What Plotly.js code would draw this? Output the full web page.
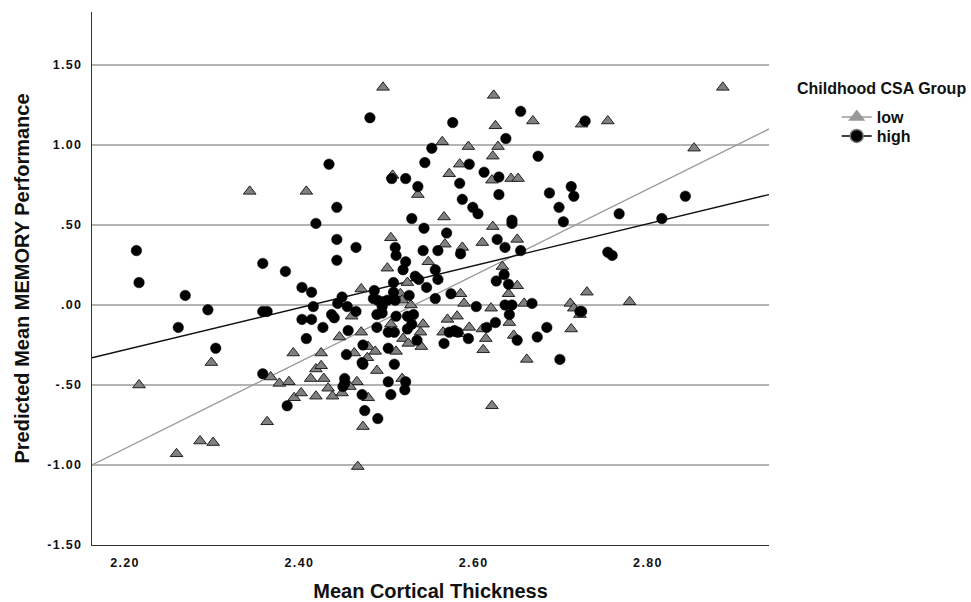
<!DOCTYPE html>
<html>
<head>
<meta charset="utf-8">
<script src="https://cdn.plot.ly/plotly-3.0.1.min.js"></script>
<style>
  html, body { margin: 0; padding: 0; background: #fff; }
  #chart { width: 971px; height: 602px; }
  .xtick text, .ytick text { letter-spacing: 1.3px; }
</style>
</head>
<body>
<div id="chart"></div>
<script>
// ---- Data ----
const lowX = [2.343, 2.408, 2.216, 2.299, 2.259, 2.286, 2.301, 2.367, 2.377, 2.388, 2.393, 2.363,
  2.394, 2.402, 2.413, 2.419, 2.425, 2.425, 2.428, 2.419, 2.433, 2.438,
  2.507, 2.536, 2.505, 2.501, 2.548, 2.524, 2.471, 2.516, 2.518, 2.528, 2.460, 2.542, 2.505, 2.539,
  2.471, 2.446, 2.519, 2.525, 2.540, 2.479, 2.487, 2.511, 2.463, 2.478,
  2.584, 2.572, 2.621, 2.643, 2.651, 2.566, 2.622, 2.650, 2.567, 2.610, 2.587, 2.633, 2.650, 2.585,
  2.640, 2.730, 2.589, 2.620, 2.658, 2.711,
  2.715, 2.722, 2.570, 2.581, 2.565, 2.584, 2.595, 2.610, 2.614, 2.641, 2.646, 2.712, 2.611, 2.661, 2.621,
  2.724, 2.754, 2.886, 2.853, 2.779,
  2.623, 2.668, 2.625, 2.564, 2.594, 2.628, 2.622,
  2.496,
  2.489, 2.466, 2.458, 2.449, 2.479, 2.518, 2.473, 2.467];
const lowY = [0.71, 0.71, -0.50, -0.36, -0.93, -0.85, -0.86, -0.45, -0.49, -0.48, -0.30, -0.73,
  -0.58, -0.55, -0.46, -0.40, -0.38, -0.30, -0.46, -0.57, -0.52, -0.57,
  0.81, 0.69, 0.42, 0.23, 0.27, 0.14, 0.10, 0.07, 0.03, 0.00, -0.07, -0.12, -0.12, -0.17,
  -0.17, -0.20, -0.21, -0.24, -0.26, -0.26, -0.29, -0.29, -0.30, -0.33,
  0.88, 0.82, 0.78, 0.79, 0.79, 0.55, 0.49, 0.41, 0.38, 0.39, 0.36, 0.24, 0.12, 0.07,
  0.07, 0.08, 0.01, -0.02, 0.01, 0.01,
  -0.02, -0.06, -0.09, -0.07, -0.17, -0.18, -0.14, -0.15, -0.21, -0.11, -0.19, -0.15, -0.28, -0.34, -0.63,
  1.13, 1.15, 1.36, 0.98, 0.02,
  1.31, 1.15, 1.12, 1.02, 0.99, 0.99, 0.93,
  1.36,
  -0.41, -0.48, -0.51, -0.55, -0.58, -0.46, -0.76, -1.01];

const highX = [2.434, 2.419, 2.213, 2.216, 2.269, 2.358, 2.384, 2.403, 2.414,
  2.295, 2.261, 2.358, 2.363, 2.304, 2.416, 2.403, 2.414, 2.427, 2.408, 2.358, 2.386,
  2.437, 2.440,
  2.544, 2.506, 2.522, 2.536, 2.443, 2.529, 2.543, 2.443, 2.465, 2.510, 2.511, 2.542, 2.443, 2.522,
  2.519, 2.533, 2.537, 2.546, 2.508, 2.486, 2.508, 2.526, 2.449, 2.485, 2.490, 2.496, 2.501, 2.510,
  2.444, 2.455, 2.495, 2.495, 2.465, 2.489, 2.511, 2.524, 2.531, 2.489, 2.524, 2.529, 2.502, 2.509,
  2.456, 2.535, 2.473, 2.502, 2.454,
  2.595, 2.612, 2.629, 2.584, 2.629, 2.587, 2.687, 2.712, 2.715, 2.599, 2.605, 2.698, 2.703, 2.644,
  2.644, 2.569, 2.627, 2.559, 2.585, 2.636, 2.654, 2.556, 2.559, 2.635, 2.626, 2.640, 2.574, 2.556,
  2.603, 2.636, 2.644, 2.667,
  2.641, 2.722, 2.724, 2.572, 2.578, 2.582, 2.594, 2.615, 2.625, 2.650, 2.673, 2.684, 2.566, 2.699,
  2.728, 2.843, 2.767, 2.816, 2.754, 2.759,
  2.654, 2.576, 2.637, 2.552, 2.674,
  2.481,
  2.472, 2.473, 2.509, 2.452, 2.452, 2.450, 2.472, 2.502, 2.522, 2.521, 2.505, 2.475, 2.490];
const highY = [0.88, 0.51, 0.34, 0.14, 0.06, 0.26, 0.21, 0.11, 0.08,
  -0.03, -0.14, -0.04, -0.04, -0.27, -0.01, -0.09, -0.09, -0.14, -0.21, -0.43, -0.63,
  -0.06, -0.08,
  0.89, 0.79, 0.79, 0.74, 0.61, 0.54, 0.48, 0.41, 0.36, 0.36, 0.31, 0.34, 0.28, 0.27,
  0.22, 0.18, 0.16, 0.11, 0.14, 0.09, 0.08, 0.06, 0.05, 0.04, 0.03, 0.02, 0.03, 0.03,
  0.01, -0.01, -0.01, -0.05, -0.04, -0.06, -0.07, -0.07, -0.06, -0.14, -0.15, -0.12, -0.17, -0.17,
  -0.16, -0.22, -0.25, -0.27, -0.31,
  0.88, 0.83, 0.80, 0.76, 0.69, 0.66, 0.70, 0.74, 0.68, 0.61, 0.57, 0.61, 0.52, 0.53,
  0.51, 0.45, 0.41, 0.34, 0.32, 0.36, 0.34, 0.22, 0.16, 0.19, 0.15, 0.13, 0.07, 0.04,
  -0.01, 0.00, 0.00, 0.01,
  -0.06, -0.04, -0.04, -0.17, -0.16, -0.17, -0.21, -0.14, -0.11, -0.22, -0.20, -0.14, -0.24, -0.34,
  1.15, 0.68, 0.57, 0.54, 0.33, 0.31,
  1.21, 1.14, 1.04, 0.98, 0.93,
  1.17,
  -0.36, -0.37, -0.37, -0.46, -0.49, -0.51, -0.56, -0.48, -0.48, -0.53, -0.56, -0.66, -0.71];

// fitted lines: [intercept, slope]
const lowFit = [-6.843, 2.7027];
const highFit = [-3.168, 1.3127];

const groupNames = ['low', 'high'];
const legendTitle = 'Childhood CSA Group';
const xTickVals = [2.2, 2.4, 2.6, 2.8];
const xTickText = ['2.20', '2.40', '2.60', '2.80'];
const yTickVals = [-1.5, -1.0, -0.5, 0, 0.5, 1.0, 1.5];
const yTickText = ['-1.50', '-1.00', '-.50', '.00', '.50', '1.00', '1.50'];

const xRange = [2.162, 2.939];
const yRange = [-1.50, 1.831];

function fitLine(fit) {
  return { x: xRange, y: xRange.map(v => fit[0] + fit[1] * v) };
}

const FONT = '"Liberation Sans", Arial, Helvetica, sans-serif';
const lowColor = '#808080';
const lowLine = '#9a9a9a';

const lf = fitLine(lowFit), hf = fitLine(highFit);

const traces = [
  { x: lf.x, y: lf.y, mode: 'lines', line: { color: lowLine, width: 1.3 }, showlegend: false, hoverinfo: 'skip' },
  { x: hf.x, y: hf.y, mode: 'lines', line: { color: '#111', width: 1.3 }, showlegend: false, hoverinfo: 'skip' },
  { x: lowX, y: lowY, mode: 'markers', type: 'scatter', showlegend: false,
    marker: { symbol: 'triangle-up', size: 11, color: lowColor, line: { color: '#222', width: 1 } } },
  { x: highX, y: highY, mode: 'markers', type: 'scatter', showlegend: false,
    marker: { symbol: 'circle', size: 10.5, color: '#000', line: { color: '#000', width: 0.5 } } },
  // legend entries
  { x: [null], y: [null], mode: 'lines+markers', name: groupNames[0], legend: 'legend',
    line: { color: lowLine, width: 1.5 }, marker: { symbol: 'triangle-up', size: 15, color: '#999' } },
  { x: [null], y: [null], mode: 'lines+markers', name: groupNames[1], legend: 'legend2',
    line: { color: '#000', width: 1.5 }, marker: { symbol: 'circle', size: 13, color: '#000', line: { color: '#777', width: 1.5 } } }
];

const legendCommon = {
  xanchor: 'left', yanchor: 'middle',
  font: { family: FONT, size: 16, weight: 'bold', color: '#111' },
  bgcolor: 'rgba(0,0,0,0)', itemwidth: 30
};

const layout = {
  width: 971, height: 602,
  margin: { l: 92, r: 202, t: 12, b: 57 },
  paper_bgcolor: '#fff', plot_bgcolor: '#fff',
  font: { family: FONT, color: '#111' },
  showlegend: true,
  xaxis: {
    range: xRange, tickvals: xTickVals, ticktext: xTickText,
    showgrid: false, zeroline: false, ticks: '',
    showline: true, linecolor: '#333', linewidth: 1.3,
    tickfont: { family: FONT, size: 12.5, weight: 'bold', color: '#111' },
    ticklabelstandoff: 6,
    title: { text: 'Mean Cortical Thickness', font: { family: FONT, size: 20, weight: 'bold', color: '#111' }, standoff: 16 }
  },
  yaxis: {
    range: yRange, tickvals: yTickVals, ticktext: yTickText,
    showgrid: true, gridcolor: '#b4b4b4', gridwidth: 2, zeroline: false, ticks: '',
    showline: true, linecolor: '#333', linewidth: 1.3,
    tickfont: { family: FONT, size: 12.5, weight: 'bold', color: '#111' },
    ticklabelstandoff: 6,
    title: { text: 'Predicted Mean MEMORY Performance', font: { family: FONT, size: 20, weight: 'bold', color: '#111' }, standoff: 12 }
  },
  legend: Object.assign({ x: 1.100, y: (545 - 117) / 533 }, legendCommon),
  legend2: Object.assign({ x: 1.100, y: (545 - 136) / 533 }, legendCommon),
  annotations: [{
    text: legendTitle, xref: 'paper', yref: 'paper',
    x: 1.038, xanchor: 'left', y: 1 - (89 - 12) / 533, yanchor: 'middle',
    showarrow: false, font: { family: FONT, size: 16, weight: 'bold', color: '#111' }
  }]
};

Plotly.newPlot('chart', traces, layout, { displayModeBar: false, staticPlot: true });
</script>
</body>
</html>
